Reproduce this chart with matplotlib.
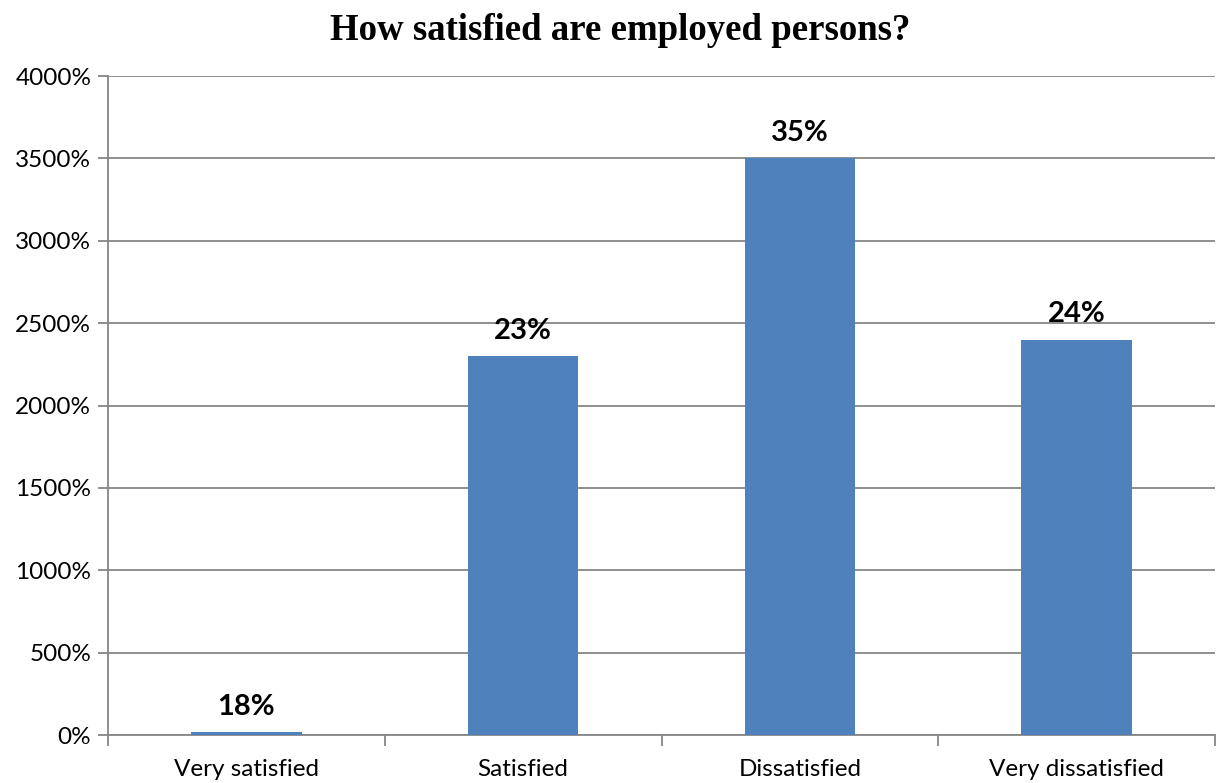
import matplotlib
matplotlib.use("Agg")
import matplotlib.pyplot as plt
from matplotlib.ticker import FuncFormatter, FixedLocator

categories = ["Very satisfied", "Satisfied", "Dissatisfied", "Very dissatisfied"]
values = [0.18, 23, 35, 24]
value_labels = ["18%", "23%", "35%", "24%"]
yticks = [0, 5, 10, 15, 20, 25, 30, 35, 40]

fig = plt.figure(figsize=(12.17, 7.83), dpi=100)
ax = fig.add_axes([108/1217, 1-735/783, (1215-108)/1217, (735-76)/783])

grid_c = "#868686"
bar_c = "#4F81BD"
x = list(range(len(categories)))
ax.bar(x, values, width=0.4, color=bar_c, zorder=3)
ax.set_xlim(-0.5, len(categories)-0.5)
ax.set_ylim(0, 40)
ax.yaxis.set_major_locator(FixedLocator(yticks))
ax.yaxis.set_major_formatter(FuncFormatter(lambda v, p: f"{v*100:.0f}%"))
ax.grid(axis="y", color=grid_c, linewidth=1.3, zorder=0)
for s in ["top", "right"]:
    ax.spines[s].set_visible(False)
ax.spines["left"].set_color(grid_c)
ax.spines["bottom"].set_color(grid_c)
ax.spines["left"].set_linewidth(1.3)
ax.spines["bottom"].set_linewidth(1.3)

tick_font = "Lato"
ax.tick_params(axis="y", length=7, color=grid_c, width=1.3, labelsize=17.5, pad=5)
for lab in ax.get_yticklabels():
    lab.set_fontfamily(tick_font)
ax.set_xticks(x)
ax.set_xticklabels(categories, fontsize=17.5, fontfamily=tick_font)
ax.tick_params(axis="x", length=0, pad=17)
# category boundary ticks
ax.set_xticks([i - 0.5 for i in range(len(categories)+1)], minor=True)
ax.tick_params(axis="x", which="minor", length=8, color=grid_c, width=1.3, direction="out")

for xi, v, lab in zip(x, values, value_labels):
    ax.annotate(lab, (xi, v), xytext=(0, 9), textcoords="offset points",
                ha="center", va="bottom", fontsize=21, fontweight="bold",
                fontfamily=tick_font)

fig.text(620/1217, 1-31/783, "How satisfied are employed persons?", ha="center", va="center",
         fontsize=26.5, fontweight="bold", fontfamily="Liberation Serif")

fig.savefig("out.png", dpi=100)
